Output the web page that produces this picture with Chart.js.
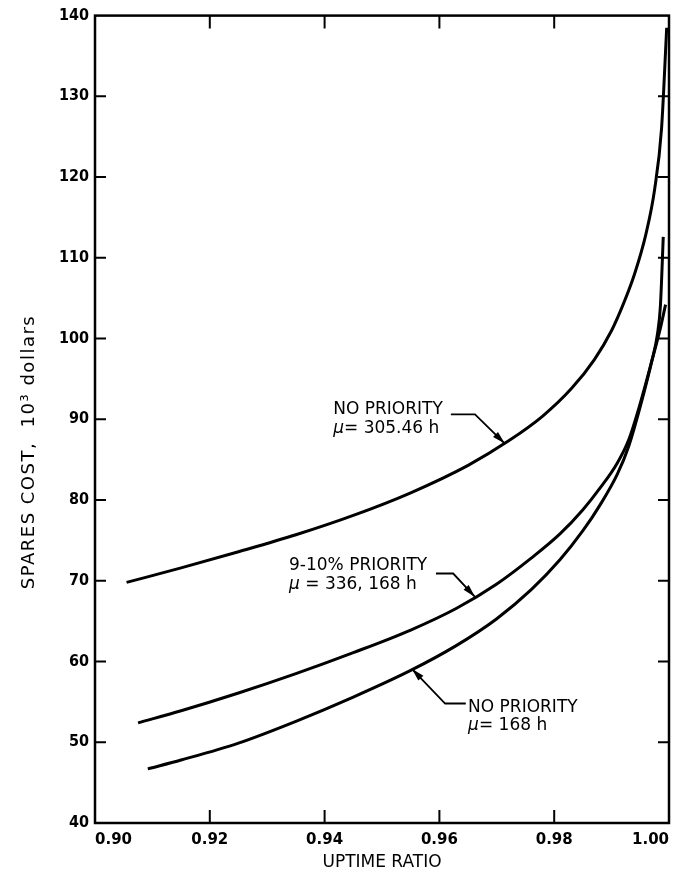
<!DOCTYPE html>
<html>
<head>
<meta charset="utf-8">
<script src="https://cdn.jsdelivr.net/npm/chart.js@4.4.0/dist/chart.umd.min.js"></script>
<style>
  html, body { margin: 0; padding: 0; background: #fff; }
  #wrap { width: 677px; height: 875px; }
</style>
</head>
<body>
<div id="wrap"><canvas id="chart" width="677" height="875"></canvas></div>
<script>
// uptime ratio vs spares cost (10^3 dollars)
var uptimeA = [0.9055, 0.915, 0.925, 0.935, 0.945, 0.955, 0.965, 0.972, 0.978, 0.983, 0.987, 0.990, 0.992, 0.994, 0.996, 0.9975, 0.9987, 0.9996];
var costA   = [69.8, 71.6, 73.6, 75.7, 78.1, 80.9, 84.3, 87.3, 90.4, 93.8, 97.4, 101.0, 104.2, 108.0, 113.0, 118.5, 126.0, 138.5];

var uptimeB = [0.9075, 0.915, 0.925, 0.935, 0.945, 0.955, 0.963, 0.970, 0.976, 0.981, 0.985, 0.988, 0.991, 0.993, 0.995, 0.997, 0.9985, 0.9994];
var costB   = [52.4, 53.9, 56.1, 58.5, 61.1, 63.9, 66.6, 69.6, 72.8, 75.8, 78.8, 81.5, 84.6, 87.5, 92.0, 97.2, 101.3, 104.2];

var uptimeC = [0.9092, 0.915, 0.925, 0.935, 0.945, 0.955, 0.963, 0.970, 0.976, 0.981, 0.985, 0.988, 0.991, 0.993, 0.995, 0.997, 0.998, 0.9985, 0.999];
var costC   = [46.7, 47.8, 49.9, 52.6, 55.6, 58.9, 62.0, 65.3, 68.9, 72.6, 76.2, 79.4, 83.2, 86.7, 91.6, 97.2, 100.6, 104.0, 112.6];

var xTicks = [0.90, 0.92, 0.94, 0.96, 0.98, 1.00];
var yTicks = [40, 50, 60, 70, 80, 90, 100, 110, 120, 130, 140];

function pts(xs, ys) {
  return xs.map(function (x, i) { return { x: x, y: ys[i] }; });
}

var FONT = "'DejaVu Sans', sans-serif";
var NARROW = "'DejaVu Sans Condensed', 'DejaVu Sans', sans-serif";

// callout labels with leader arrows, placed in data coordinates
var notes = [
  { lines: ['NO PRIORITY', '\u03bc= 305.46 h'], at: [0.9415, 91.2],
    leader: [[0.9620, 90.6], [0.9662, 90.6], [0.9714, 87.0]] },
  { lines: ['9-10% PRIORITY', '\u03bc = 336, 168 h'], at: [0.9338, 71.85],
    leader: [[0.9594, 70.9], [0.9624, 70.9], [0.9662, 68.0]] },
  { lines: ['NO PRIORITY', '\u03bc= 168 h'], at: [0.9650, 54.3],
    leader: [[0.9646, 54.8], [0.9610, 54.8], [0.9552, 59.1]] }
];

var framePlugin = {
  id: 'frame',
  afterDatasetsDraw: function (chart) {
    var ctx = chart.ctx, a = chart.chartArea;
    var xs = chart.scales.x, ys = chart.scales.y;
    ctx.save();
    ctx.strokeStyle = '#000';
    ctx.lineWidth = 2.5;
    ctx.strokeRect(a.left, a.top, a.right - a.left, a.bottom - a.top);
    ctx.lineWidth = 2;
    ctx.beginPath();
    xTicks.slice(1, -1).forEach(function (v) {
      var px = xs.getPixelForValue(v);
      ctx.moveTo(px, a.bottom); ctx.lineTo(px, a.bottom - 13);
      ctx.moveTo(px, a.top); ctx.lineTo(px, a.top + 13);
    });
    yTicks.slice(1, -1).forEach(function (v) {
      var py = ys.getPixelForValue(v);
      ctx.moveTo(a.left, py); ctx.lineTo(a.left + 11, py);
      ctx.moveTo(a.right, py); ctx.lineTo(a.right - 11, py);
    });
    ctx.stroke();

    // y axis title
    ctx.fillStyle = '#000';
    ctx.font = '18px ' + FONT;
    ctx.letterSpacing = '1.5px';
    ctx.textAlign = 'center';
    ctx.textBaseline = 'middle';
    ctx.translate(29, 452);
    ctx.rotate(-Math.PI / 2);
    ctx.fillText('SPARES COST,  10\u00b3 dollars', 0, 0);
    ctx.restore();

    // callouts
    ctx.save();
    ctx.fillStyle = '#000';
    ctx.strokeStyle = '#000';
    ctx.textAlign = 'left';
    ctx.textBaseline = 'middle';
    notes.forEach(function (n) {
      var tx = xs.getPixelForValue(n.at[0]), ty = ys.getPixelForValue(n.at[1]);
      n.lines.forEach(function (s, i) {
        var y = ty + i * 18.5, x = tx;
        if (s.charAt(0) === '\u03bc') {
          ctx.font = 'italic 17px ' + FONT;
          ctx.fillText('\u03bc', x, y);
          x += ctx.measureText('\u03bc').width;
          s = s.slice(1);
        }
        ctx.font = '17px ' + FONT;
        ctx.fillText(s, x, y);
      });
      var p = n.leader.map(function (q) { return [xs.getPixelForValue(q[0]), ys.getPixelForValue(q[1])]; });
      ctx.lineWidth = 1.8;
      ctx.beginPath();
      ctx.moveTo(p[0][0], p[0][1]);
      for (var i = 1; i < p.length; i++) ctx.lineTo(p[i][0], p[i][1]);
      ctx.stroke();
      var tip = p[p.length - 1], prev = p[p.length - 2];
      var ang = Math.atan2(tip[1] - prev[1], tip[0] - prev[0]);
      ctx.beginPath();
      ctx.moveTo(tip[0], tip[1]);
      ctx.lineTo(tip[0] - 13 * Math.cos(ang) + 3.5 * Math.sin(ang), tip[1] - 13 * Math.sin(ang) - 3.5 * Math.cos(ang));
      ctx.lineTo(tip[0] - 13 * Math.cos(ang) - 3.5 * Math.sin(ang), tip[1] - 13 * Math.sin(ang) + 3.5 * Math.cos(ang));
      ctx.closePath();
      ctx.fill();
    });
    ctx.restore();
  }
};

function line(data) {
  return {
    data: data,
    borderColor: '#000',
    borderWidth: 3,
    pointRadius: 0,
    fill: false,
    cubicInterpolationMode: 'monotone'
  };
}

var ctx = document.getElementById('chart').getContext('2d');
var myChart = new Chart(ctx, {
  type: 'line',
  data: {
    datasets: [
      line(pts(uptimeA, costA)),
      line(pts(uptimeB, costB)),
      line(pts(uptimeC, costC))
    ]
  },
  options: {
    responsive: false,
    animation: false,
    layout: { padding: { top: 13, right: 8, left: 0, bottom: 0 } },
    plugins: { legend: { display: false }, tooltip: { enabled: false } },
    scales: {
      x: {
        type: 'linear',
        min: 0.90,
        max: 1.00,
        afterBuildTicks: function (s) { s.ticks = xTicks.map(function (v) { return { value: v }; }); },
        afterFit: function (s) { s.height = 52; },
        grid: { display: false, drawTicks: false },
        border: { display: false },
        ticks: {
          align: 'inner',
          padding: 8,
          color: '#000',
          font: { family: FONT, size: 15, weight: 'bold' },
          callback: function (v) { return Number(v).toFixed(2); }
        },
        title: {
          display: true,
          text: 'UPTIME RATIO',
          color: '#000',
          font: { family: FONT, size: 17 },
          padding: { top: 0, bottom: 2 }
        }
      },
      y: {
        min: 40,
        max: 140,
        afterBuildTicks: function (s) { s.ticks = yTicks.map(function (v) { return { value: v }; }); },
        afterFit: function (s) { s.width = 95; },
        grid: { display: false, drawTicks: false },
        border: { display: false },
        ticks: {
          padding: 6,
          color: '#000',
          font: { family: NARROW, size: 16, weight: 'bold' }
        }
      }
    }
  },
  plugins: [framePlugin]
});
</script>
</body>
</html>
